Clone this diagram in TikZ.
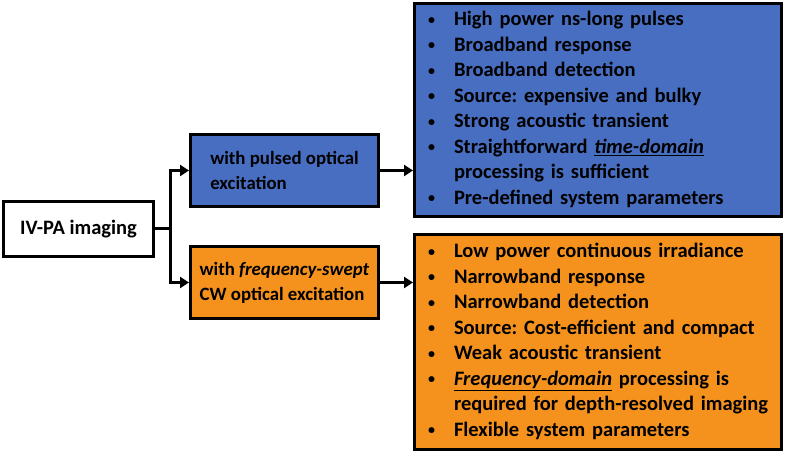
\documentclass[tikz,border=0pt]{standalone}
\usepackage{fontspec}
\setmainfont{Carlito}
\usetikzlibrary{positioning,arrows.meta}
\definecolor{pulseblue}{RGB}{72,110,194}
\definecolor{cworange}{RGB}{245,146,30}
\newcommand{\blt}{\raisebox{1.5pt}{\fontsize{14}{14}\selectfont\textbullet}}
\frenchspacing

\begin{document}
\begin{tikzpicture}[x=1pt, y=1pt,
    box/.style = {draw, line width=3pt, font=\bfseries\fontsize{20.5}{25.5}\selectfont},
    mid/.style = {box, font=\bfseries\fontsize{18.8}{25}\selectfont, align=left, minimum width=188pt, minimum height=72pt, inner sep=0pt},
    list/.style = {box, text width=340pt, align=left, minimum width=367pt, inner xsep=13.5pt, inner ysep=0pt},
    conn/.style = {line width=3pt, -{Triangle[length=9pt,width=11pt]}}]
                    \useasboundingbox (0,0) rectangle (787,454);

                    \node [box, fill=white, minimum width=150pt, minimum height=55pt] (root) at (78.5,225) {IV-PA imaging};
                    \node [mid, fill=pulseblue] (pul) at (284.5,283.5) {with pulsed optical\\excitation};
                    \node [mid, fill=cworange] (cw) at (284.5,171.5) {with \textit{frequency-swept}\\CW optical excitation};

                    \node [list, fill=pulseblue, minimum height=213pt] (pullist) at (598,344) {%
                    \begin{tabular}{@{}p{26pt}@{}l@{}}
                    \blt & High power ns-long pulses\\
                    \blt & Broadband response\\
                    \blt & Broadband detection\\
                    \blt & Source: expensive and bulky\\
                    \blt & Strong acoustic transient\\
                    \blt & Straightforward \underline{\textit{time-domain}}\\
                         & processing is sufficient\\
                    \blt & Pre-defined system parameters
                    \end{tabular}};
                    \node [list, fill=cworange, minimum height=215pt] (cwlist) at (598,112) {%
                    \begin{tabular}{@{}p{26pt}@{}l@{}}
                    \blt & Low power continuous irradiance\\
                    \blt & Narrowband response\\
                    \blt & Narrowband detection\\
                    \blt & Source: Cost-efficient and compact\\
                    \blt & Weak acoustic transient\\
                    \blt & \underline{\textit{Frequency-domain}} processing is\\
                         & required for depth-resolved imaging\\
                    \blt & Flexible system parameters
                    \end{tabular}};

                    \coordinate (fork) at (170,225);
                    \draw [line width=3pt] (root.east) -- (fork);
                    \draw [conn] (fork) |- (pul.west);
                    \draw [conn] (fork) |- (cw.west);
                    \draw [conn] (pul.east) -- (pul.east -| pullist.west);
                    \draw [conn] (cw.east) -- (cw.east -| cwlist.west);

                \end{tikzpicture}
\end{document}
